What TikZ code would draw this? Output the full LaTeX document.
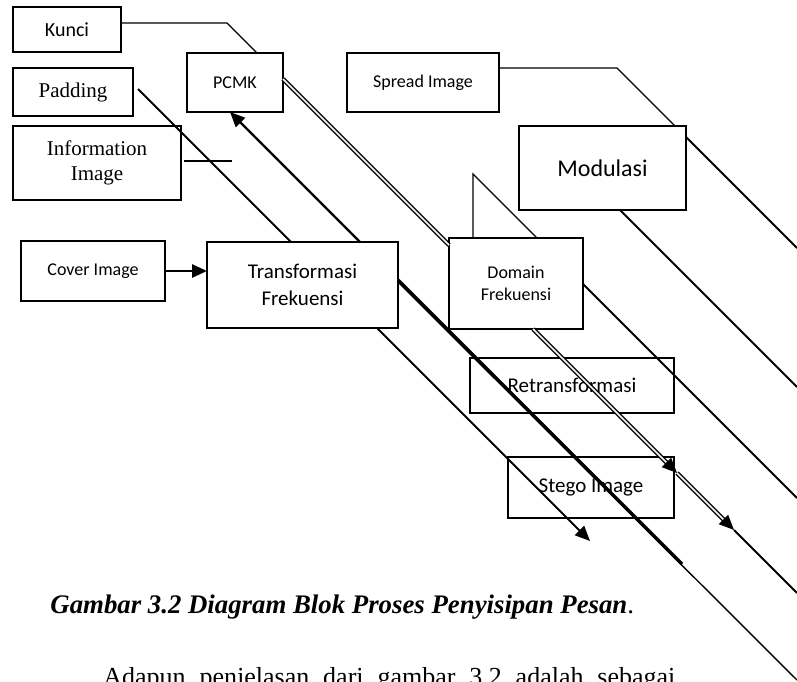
\documentclass[tikz,border=0pt]{standalone}
\usepackage{fontspec}
\setmainfont{Liberation Serif}
\newfontfamily\calibri{Carlito}
\usetikzlibrary{arrows.meta,calc}

\tikzset{
  blok/.style={draw, rectangle, line width=1.3pt, inner sep=0pt, outer sep=0pt, align=center},
  garis/.style={line width=1pt},
  tipis/.style={line width=0.7pt},
  ganda/.style={double, line width=0.7pt, double distance=0.8pt},
  panah/.style={line width=1pt, -{Triangle[length=7.5pt,width=6.5pt]}},
}

\begin{document}
\begin{tikzpicture}[x=0.5pt, y=-0.5pt]
    \useasboundingbox (0,0) rectangle (797,681);

    \node[blok, minimum width=54pt, minimum height=22.5pt, font=\calibri\fontsize{10}{12}\selectfont] (kunci) at (67,29.5) {Kunci};
    \node[blok, minimum width=60pt, minimum height=24pt, font=\fontsize{10.5}{12}\selectfont] (padding) at (73,92) {Padding};
    \node[blok, minimum width=84pt, minimum height=37pt, font=\fontsize{10.5}{12.3}\selectfont] (info) at (97,163) {Information\\Image};
    \node[blok, minimum width=48pt, minimum height=29.5pt, font=\calibri\fontsize{9}{11}\selectfont] (pcmk) at (235,82.5) {PCMK};
    \node[blok, minimum width=76pt, minimum height=29.5pt, font=\calibri\fontsize{9}{11}\selectfont] (spread) at (423,82.5) {Spread Image};
    \node[blok, minimum width=83.5pt, minimum height=42pt, font=\calibri\fontsize{12}{14}\selectfont] (modul) at (602.5,168) {Modulasi};
    \node[blok, minimum width=72pt, minimum height=30pt, font=\calibri\fontsize{9}{11}\selectfont] (cover) at (93,271) {Cover Image};
    \node[blok, minimum width=95.5pt, minimum height=43pt, font=\calibri\fontsize{10.5}{13.3}\selectfont] (trans) at (302.5,285) {Transformasi\\Frekuensi};
    \node[blok, minimum width=67pt, minimum height=45.5pt, font=\calibri\fontsize{9}{11.3}\selectfont] (domain) at (516,283.5) {Domain\\Frekuensi};
    \node[blok, minimum width=102pt, minimum height=27.5pt, font=\calibri\fontsize{10.5}{12}\selectfont] (retrans) at (572,385.5) {Retransformasi};
    \node[blok, minimum width=83pt, minimum height=30.5pt, font=\calibri\fontsize{10.5}{12}\selectfont] (stego) at (591,487.5) {Stego Image};

    % titik belok dan ujung bebas
    \coordinate (kbelok) at (227,23);
    \coordinate (sbelok) at (617,68);
    \coordinate (dbelok) at (473,174);
    \coordinate (ujung1) at (677,473);
    \coordinate (ujung2) at (734,530);
    \coordinate (ujungp) at (590,541);
    \coordinate (ujungt) at (682,564);
    \coordinate (tepik) at (797,593);
    \coordinate (tepis) at (797,248);
    \coordinate (tepim) at (797,387);
    \coordinate (tepid) at (797,498);
    \coordinate (tepit) at (797,680);

    \draw[tipis] (kunci.east |- kbelok) -- (kbelok) -- ($(pcmk.north west)+(70,0)$);
    \draw[ganda] ($(pcmk.north east)+(0,26)$) -- ($(domain.north west)+(0,7)$);
    \draw[ganda, -{Triangle[length=7.5pt,width=6.5pt]}] ($(domain.south west)+(84,0)$) -- (ujung1);
    \draw[ganda, -{Triangle[length=7.5pt,width=6.5pt]}] (ujung1) -- (ujung2);
    \draw[garis] (ujung2) -- (tepik);

    \draw[garis] ($(padding.east)+(5,-3)$) -- ($(trans.north west)+(84,0)$);
    \draw[panah] ($(trans.south west)+(170,0)$) -- (ujungp);
    \draw[tipis] ($(info.east)+(3,-2)$) -- +(48,0);
    \draw[panah, line width=1.4pt] (cover.east) -- (cover.east -| trans.west);

    \draw[panah, line width=1.1pt] ($(trans.north west)+(153,0)$) -- ($(pcmk.south west)+(43,0)$);
    \draw[line width=1.7pt] ($(trans.north east)+(0,38)$) -- (ujungt);
    \draw[tipis] ($(trans.north east)+(0,40)$) -- (tepit);

    \draw[tipis] ($(spread.north east)+(0,15)$) -- (sbelok) -- ($(modul.north west)+(156,0)$);
    \draw[garis] ($(modul.north east)+(0,11)$) -- (tepis);
    \draw[garis] ($(modul.south west)+(101,0)$) -- (tepim);

    \draw[tipis] ($(domain.north west)+(24,0)$) -- (dbelok) -- ($(domain.north west)+(88,0)$);
    \draw[garis] ($(domain.north east)+(0,46)$) -- (tepid);

    \node[anchor=base west, inner sep=0pt, font=\fontsize{13.4}{15}\selectfont\bfseries\itshape] (judul) at (50,613) {Gambar 3.2 Diagram Blok Proses Penyisipan Pesan{\normalfont .}};
    \node[anchor=base west, inner sep=0pt, font=\fontsize{13}{15}\selectfont] (isi) at (103,685) {\makebox[286pt][s]{Adapun penjelasan dari gambar 3.2 adalah sebagai}};
\end{tikzpicture}
\end{document}
